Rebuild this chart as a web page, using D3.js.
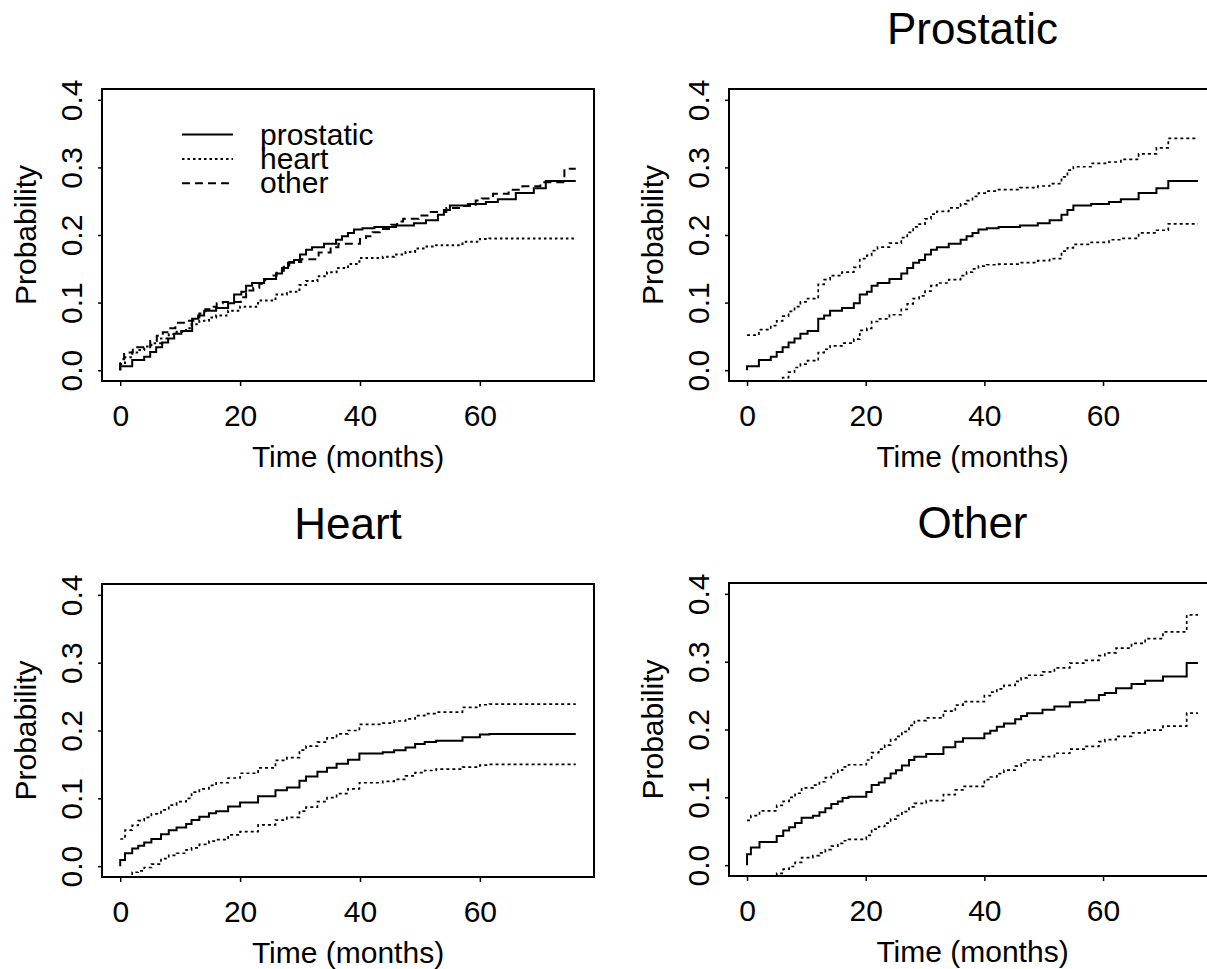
<!DOCTYPE html>
<html>
<head>
<meta charset="utf-8">
<script src="https://cdnjs.cloudflare.com/ajax/libs/d3/7.8.5/d3.min.js"></script>
<style>
  body { margin: 0; background: #fff; }
  svg text { font-family: "Liberation Sans", Arial, Helvetica, sans-serif; fill: #000; }
</style>
</head>
<body>
<div id="vis"></div>
<script>
// cumulative incidence step estimates (months) with pointwise bands
let prostaticTime = [0, 2, 4, 5, 6, 7, 8, 9, 10.2, 12, 13, 14, 16, 18, 19, 20.2, 21, 22, 24, 26, 27, 28, 29, 30, 31, 32, 34, 36, 37, 38, 39, 40.4, 42.4, 46, 49, 51, 53, 54, 55, 58, 61, 63, 66, 69, 71];
let prostaticEst = [0.006, 0.015, 0.020, 0.027, 0.034, 0.041, 0.047, 0.054, 0.058, 0.076, 0.081, 0.088, 0.092, 0.099, 0.112, 0.116, 0.125, 0.129, 0.135, 0.143, 0.151, 0.159, 0.163, 0.171, 0.178, 0.182, 0.187, 0.193, 0.198, 0.203, 0.208, 0.210, 0.212, 0.214, 0.2175, 0.222, 0.230, 0.237, 0.2435, 0.246, 0.249, 0.253, 0.262, 0.269, 0.280];
let prostaticUpper = [0.052, 0.060, 0.066, 0.073, 0.080, 0.087, 0.094, 0.101, 0.106, 0.127, 0.134, 0.140, 0.145, 0.152, 0.165, 0.170, 0.177, 0.182, 0.188, 0.196, 0.204, 0.212, 0.216, 0.224, 0.231, 0.235, 0.240, 0.246, 0.251, 0.257, 0.262, 0.265, 0.267, 0.270, 0.2725, 0.276, 0.286, 0.296, 0.301, 0.306, 0.308, 0.312, 0.320, 0.329, 0.343];
let prostaticLower = [-0.040, -0.030, -0.026, -0.019, -0.011, -0.003, 0.004, 0.009, 0.014, 0.026, 0.031, 0.036, 0.040, 0.046, 0.059, 0.062, 0.072, 0.076, 0.082, 0.090, 0.098, 0.106, 0.110, 0.117, 0.125, 0.129, 0.134, 0.140, 0.145, 0.150, 0.154, 0.156, 0.157, 0.159, 0.162, 0.165, 0.176, 0.181, 0.186, 0.189, 0.193, 0.195, 0.203, 0.207, 0.2165];

let heartTime = [0, 0.8, 2, 3, 4, 5.2, 6.8, 8.1, 9.4, 11, 11.9, 13.2, 14.8, 16, 18, 20, 23, 25.9, 27.8, 29.9, 31, 32.9, 34.5, 36.1, 38, 39.9, 43.8, 45.7, 47.6, 49.2, 50.8, 52.7, 57.1, 60, 61.6];
let heartEst = [0.009, 0.019, 0.026, 0.030, 0.035, 0.040, 0.047, 0.053, 0.057, 0.062, 0.068, 0.073, 0.078, 0.081, 0.088, 0.094, 0.103, 0.112, 0.116, 0.126, 0.132, 0.139, 0.145, 0.151, 0.157, 0.166, 0.168, 0.171, 0.175, 0.180, 0.183, 0.185, 0.190, 0.194, 0.195];
let heartUpper = [0.040, 0.053, 0.060, 0.067, 0.072, 0.077, 0.083, 0.090, 0.095, 0.100, 0.109, 0.114, 0.119, 0.123, 0.130, 0.137, 0.145, 0.156, 0.160, 0.171, 0.177, 0.183, 0.189, 0.195, 0.200, 0.209, 0.211, 0.214, 0.217, 0.222, 0.225, 0.227, 0.234, 0.238, 0.239];
let heartLower = [-0.022, -0.017, -0.009, -0.007, -0.002, 0.003, 0.011, 0.016, 0.019, 0.024, 0.027, 0.032, 0.037, 0.039, 0.046, 0.051, 0.061, 0.068, 0.072, 0.081, 0.087, 0.095, 0.101, 0.107, 0.114, 0.123, 0.125, 0.128, 0.133, 0.138, 0.141, 0.143, 0.146, 0.149, 0.150];

let otherTime = [0, 0.65, 2.1, 5, 6.1, 7.1, 8.1, 9.2, 11.1, 12.2, 13.2, 14.2, 15.3, 16.1, 17.1, 20.1, 21, 22.2, 23.2, 24.2, 25.1, 26.1, 27.3, 28.2, 30.2, 33.1, 35.1, 36.4, 40, 41, 42.1, 43.3, 45.2, 46.2, 47.2, 49.8, 51.8, 54.4, 57, 59.3, 60.3, 62.2, 64.8, 67.1, 70.1, 74.1];
let otherEst = [0.016, 0.026, 0.034, 0.043, 0.051, 0.056, 0.062, 0.070, 0.073, 0.078, 0.084, 0.090, 0.094, 0.099, 0.101, 0.108, 0.118, 0.122, 0.128, 0.135, 0.140, 0.147, 0.155, 0.160, 0.164, 0.174, 0.182, 0.187, 0.194, 0.198, 0.204, 0.209, 0.215, 0.220, 0.224, 0.229, 0.234, 0.240, 0.243, 0.251, 0.254, 0.261, 0.267, 0.272, 0.278, 0.298];
let otherUpper = [0.066, 0.073, 0.080, 0.088, 0.094, 0.100, 0.106, 0.114, 0.118, 0.123, 0.129, 0.135, 0.140, 0.145, 0.148, 0.155, 0.166, 0.171, 0.177, 0.185, 0.190, 0.197, 0.206, 0.213, 0.217, 0.227, 0.236, 0.241, 0.250, 0.255, 0.260, 0.265, 0.271, 0.276, 0.280, 0.285, 0.291, 0.298, 0.302, 0.309, 0.313, 0.320, 0.327, 0.334, 0.344, 0.369];
let otherLower = [-0.034, -0.029, -0.022, -0.012, -0.006, -0.002, 0.004, 0.011, 0.014, 0.018, 0.023, 0.028, 0.032, 0.036, 0.038, 0.044, 0.053, 0.057, 0.062, 0.068, 0.073, 0.079, 0.086, 0.091, 0.095, 0.104, 0.111, 0.116, 0.126, 0.130, 0.135, 0.140, 0.146, 0.151, 0.155, 0.160, 0.165, 0.171, 0.175, 0.182, 0.185, 0.190, 0.195, 0.199, 0.205, 0.224];

let followUpEnd = 76;
let xTicks = [0, 20, 40, 60];
let yTicks = [0, 0.1, 0.2, 0.3, 0.4];
let legendLabels = ['prostatic', 'heart', 'other'];
let panelTitles = ['', 'Prostatic', 'Heart', 'Other'];

let causes = {
    prostatic: { time: prostaticTime, est: prostaticEst, upper: prostaticUpper, lower: prostaticLower },
    heart: { time: heartTime, est: heartEst, upper: heartUpper, lower: heartLower },
    other: { time: otherTime, est: otherEst, upper: otherUpper, lower: otherLower }
};

// line styles for the three causes (solid / dotted / dashed)
let dashes = { prostatic: null, heart: '2.5,3', other: '8,5' };

let svg = d3.select('#vis')
    .append('svg')
    .attr('width', 1207)
    .attr('height', 969)
    .style('background-color', '#fff');

// plot regions of the four panels
let panels = [
    { left: 102, top: 89, right: 594, bottom: 381 },
    { left: 729, top: 89, right: 1216, bottom: 381, cause: 'prostatic' },
    { left: 102, top: 584, right: 594, bottom: 877, cause: 'heart' },
    { left: 729, top: 583, right: 1216, bottom: 876, cause: 'other' }
];

// turn a step series into points, running on to the end of follow-up
function steps(time, values, fromZero) {
    let pts = time.map((t, i) => [t, values[i]]);
    if (fromZero) pts.unshift([0, 0]);
    pts.push([followUpEnd, values[values.length - 1]]);
    return pts;
}

panels.forEach(function(p, i) {
    let x = d3.scaleLinear().domain([-3.04, 79.04]).range([p.left, p.right]);
    let y = d3.scaleLinear().domain([-0.016, 0.416]).range([p.bottom, p.top]);
    let line = d3.line()
        .x(d => x(d[0]))
        .y(d => y(d[1]))
        .curve(d3.curveStepAfter);

    svg.append('clipPath')
        .attr('id', 'clip' + i)
        .append('rect')
        .attr('x', p.left)
        .attr('y', p.top)
        .attr('width', p.right - p.left)
        .attr('height', p.bottom - p.top);

    let plot = svg.append('g').attr('clip-path', 'url(#clip' + i + ')');

    if (p.cause) {
        let c = causes[p.cause];
        [c.upper, c.lower].forEach(function(band) {
            plot.append('path')
                .datum(steps(c.time, band, false))
                .attr('fill', 'none')
                .attr('stroke', '#000')
                .attr('stroke-width', 1.7)
                .attr('stroke-dasharray', '3,3')
                .attr('d', line);
        });
        plot.append('path')
            .datum(steps(c.time, c.est, true))
            .attr('fill', 'none')
            .attr('stroke', '#000')
            .attr('stroke-width', 2)
            .attr('d', line);
    } else {
        // overlay of the three estimates
        legendLabels.forEach(function(k) {
            plot.append('path')
                .datum(steps(causes[k].time, causes[k].est, true))
                .attr('fill', 'none')
                .attr('stroke', '#000')
                .attr('stroke-width', 2)
                .attr('stroke-dasharray', dashes[k])
                .attr('d', line);
        });
    }

    // box
    svg.append('rect')
        .attr('x', p.left)
        .attr('y', p.top)
        .attr('width', p.right - p.left)
        .attr('height', p.bottom - p.top)
        .attr('fill', 'none')
        .attr('stroke', '#000')
        .attr('stroke-width', 2);

    // x axis
    let xAxis = svg.append('g')
        .attr('transform', 'translate(0,' + p.bottom + ')')
        .call(d3.axisBottom(x).tickValues(xTicks).tickSize(5).tickSizeOuter(0).tickFormat(d3.format('d')));
    xAxis.select('.domain').remove();
    xAxis.selectAll('text')
        .attr('y', 45)
        .attr('dy', 0)
        .style('font-size', '30px')
        .style('font-family', '"Liberation Sans", Arial, sans-serif');
    xAxis.selectAll('line').attr('stroke-width', 1.5);

    // y axis, labels parallel to the axis
    let yAxis = svg.append('g')
        .attr('transform', 'translate(' + p.left + ',0)')
        .call(d3.axisLeft(y).tickValues(yTicks).tickSize(4).tickSizeOuter(0).tickFormat(d3.format('.1f')));
    yAxis.select('.domain').remove();
    yAxis.selectAll('text')
        .attr('x', 0)
        .attr('y', -20)
        .attr('dy', 0)
        .attr('transform', 'rotate(-90)')
        .attr('text-anchor', 'middle')
        .style('font-size', '30px')
        .style('font-family', '"Liberation Sans", Arial, sans-serif');
    yAxis.selectAll('line').attr('stroke-width', 1.5);

    // axis titles
    svg.append('text')
        .attr('x', (p.left + p.right) / 2)
        .attr('y', p.bottom + 86)
        .attr('text-anchor', 'middle')
        .style('font-size', '30px')
        .text('Time (months)');

    svg.append('text')
        .attr('transform', 'translate(' + (p.left - 66) + ',' + ((p.top + p.bottom) / 2) + ') rotate(-90)')
        .attr('text-anchor', 'middle')
        .style('font-size', '30px')
        .text('Probability');

    if (panelTitles[i]) {
        svg.append('text')
            .attr('x', (p.left + p.right) / 2)
            .attr('y', p.top - 45)
            .attr('text-anchor', 'middle')
            .style('font-size', '44px')
            .text(panelTitles[i]);
    }
});

// legend in the first panel
let legend = svg.append('g')
    .selectAll('g')
    .data(legendLabels)
    .enter().append('g')
    .attr('transform', (d, i) => 'translate(182,' + (134.5 + i * 24.4) + ')');

legend.append('line')
    .attr('x1', 0)
    .attr('x2', 51)
    .attr('stroke', '#000')
    .attr('stroke-width', 2)
    .attr('stroke-dasharray', d => dashes[d]);

legend.append('text')
    .attr('x', 78)
    .attr('y', 10)
    .style('font-size', '30px')
    .text(d => d);
</script>
</body>
</html>
